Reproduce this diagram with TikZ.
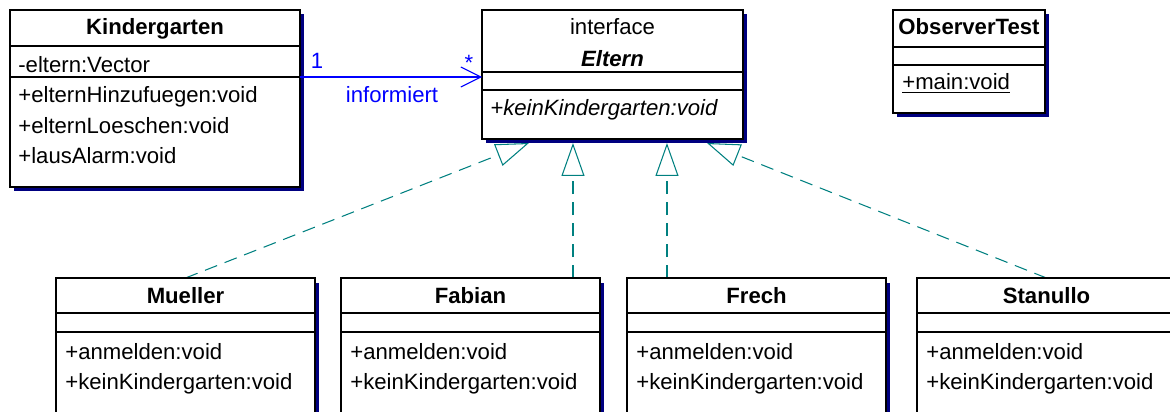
\documentclass[tikz,border=0pt]{standalone}
\usepackage{fontspec}
\setmainfont{Liberation Sans}
\usepackage{tikz}
\usetikzlibrary{arrows.meta, shadows, backgrounds}
\definecolor{umlshadow}{RGB}{0,0,128}
\definecolor{umlblue}{RGB}{0,0,255}
\definecolor{umlteal}{RGB}{0,128,128}

\begin{document}
\fontsize{12.6}{15}\selectfont
\begin{tikzpicture}[x=0.02cm, y=-0.02cm,
              classbox/.style = {draw, fill=white, line width=0.8pt,
                inner sep=0, outer sep=0, anchor=north west,
                drop shadow={shadow xshift=0.08cm, shadow yshift=-0.09cm,
                  fill=umlshadow, opacity=1}},
              title/.style = {anchor=base, inner sep=0, font=\bfseries},
              member/.style = {anchor=base west, inner sep=0},
              sep/.style = {line width=0.6pt},
              assoc/.style = {umlblue, line width=0.6pt,
                -{Straight Barb[length=0.4cm, width=0.4cm]}},
              realize/.style = {umlteal, line width=0.6pt,
                dash pattern=on 0.26cm off 0.16cm,
                -{Triangle[open, length=0.66cm, width=0.46cm]}}]
  \useasboundingbox (0,0) rectangle (1170,412);
  \clip (0,0) rectangle (1170,412);

  % Kindergarten
  \node[classbox, minimum width=5.8cm, minimum height=3.54cm] (kg) at (10,10) {};
  \draw[sep] ([shift={(0,36)}]kg.north west) -- ([shift={(0,36)}]kg.north east);
  \draw[sep] ([shift={(0,67)}]kg.north west) -- ([shift={(0,67)}]kg.north east);
  \node[title] (kg-name) at (155,35) {Kindergarten};
  \node[member] (kg-attr) at (18,73) {-eltern:Vector};
  \node[member] (kg-op1) at (18,103) {+elternHinzufuegen:void};
  \node[member] (kg-op2) at (18,133) {+elternLoeschen:void};
  \node[member] (kg-op3) at (18,163) {+lausAlarm:void};

  % Eltern
  \node[classbox, minimum width=5.22cm, minimum height=2.58cm] (eltern) at (482,10) {};
  \draw[sep] ([shift={(0,62)}]eltern.north west) -- ([shift={(0,62)}]eltern.north east);
  \draw[sep] ([shift={(0,80)}]eltern.north west) -- ([shift={(0,80)}]eltern.north east);
  \node[anchor=base, inner sep=0] (eltern-stereo) at (612.5,35) {interface};
  \node[title] (eltern-name) at (612.5,67) {\itshape Eltern};
  \node[member] (eltern-op) at (490,115) {\itshape +keinKindergarten:void};

  % ObserverTest
  \node[classbox, minimum width=3.04cm, minimum height=2.06cm] (test) at (893,10) {};
  \draw[sep] ([shift={(0,37)}]test.north west) -- ([shift={(0,37)}]test.north east);
  \draw[sep] ([shift={(0,55)}]test.north west) -- ([shift={(0,55)}]test.north east);
  \node[title] (test-name) at (969,35) {ObserverTest};
  \node[member] (test-op) at (902,90) {\underline{+main:void}};

  % Mueller
  \node[classbox, minimum width=5.18cm, minimum height=3cm] (mueller) at (56,278) {};
  \draw[sep] ([shift={(0,35)}]mueller.north west) -- ([shift={(0,35)}]mueller.north east);
  \draw[sep] ([shift={(0,54)}]mueller.north west) -- ([shift={(0,54)}]mueller.north east);
  \node[title] (mueller-name) at (185.5,303) {Mueller};
  \node[member] (mueller-op1) at (65,359) {+anmelden:void};
  \node[member] (mueller-op2) at (65,389) {+keinKindergarten:void};

  % Fabian
  \node[classbox, minimum width=5.18cm, minimum height=3cm] (fabian) at (341,278) {};
  \draw[sep] ([shift={(0,35)}]fabian.north west) -- ([shift={(0,35)}]fabian.north east);
  \draw[sep] ([shift={(0,54)}]fabian.north west) -- ([shift={(0,54)}]fabian.north east);
  \node[title] (fabian-name) at (470.5,303) {Fabian};
  \node[member] (fabian-op1) at (350,359) {+anmelden:void};
  \node[member] (fabian-op2) at (350,389) {+keinKindergarten:void};

  % Frech
  \node[classbox, minimum width=5.18cm, minimum height=3cm] (frech) at (627,278) {};
  \draw[sep] ([shift={(0,35)}]frech.north west) -- ([shift={(0,35)}]frech.north east);
  \draw[sep] ([shift={(0,54)}]frech.north west) -- ([shift={(0,54)}]frech.north east);
  \node[title] (frech-name) at (756.5,303) {Frech};
  \node[member] (frech-op1) at (636,359) {+anmelden:void};
  \node[member] (frech-op2) at (636,389) {+keinKindergarten:void};

  % Stanullo
  \node[classbox, minimum width=5.18cm, minimum height=3cm] (stanullo) at (917,278) {};
  \draw[sep] ([shift={(0,35)}]stanullo.north west) -- ([shift={(0,35)}]stanullo.north east);
  \draw[sep] ([shift={(0,54)}]stanullo.north west) -- ([shift={(0,54)}]stanullo.north east);
  \node[title] (stanullo-name) at (1046.5,303) {Stanullo};
  \node[member] (stanullo-op1) at (926,359) {+anmelden:void};
  \node[member] (stanullo-op2) at (926,389) {+keinKindergarten:void};

  % association
  \coordinate (kg-end) at ([shift={(0,67)}]kg.north east);
  \draw[assoc] (kg-end) -- (kg-end -| eltern.west);
  \node[anchor=base, inner sep=0, text=umlblue] (mult-one) at (317,69) {1};
  \node[anchor=base, inner sep=0, text=umlblue] (mult-many) at (469,71) {*};
  \node[anchor=base, inner sep=0, text=umlblue] (assoc-name) at (392,103) {informiert};

  % realizations
  \coordinate (tip-m) at ([shift={(-83.5,4)}]eltern.south);
  \coordinate (tip-f) at ([shift={(-39.5,4)}]eltern.south);
  \coordinate (tip-r) at ([shift={(54.5,4)}]eltern.south);
  \coordinate (tip-s) at ([shift={(94.5,4)}]eltern.south);
  \begin{scope}[on background layer]
    \draw[realize] (mueller.north) -- (tip-m);
    \draw[realize] (tip-f |- fabian.north) -- (tip-f);
    \draw[realize] (tip-r |- frech.north) -- (tip-r);
    \draw[realize] (stanullo.north) -- (tip-s);
  \end{scope}
\end{tikzpicture}
\end{document}
